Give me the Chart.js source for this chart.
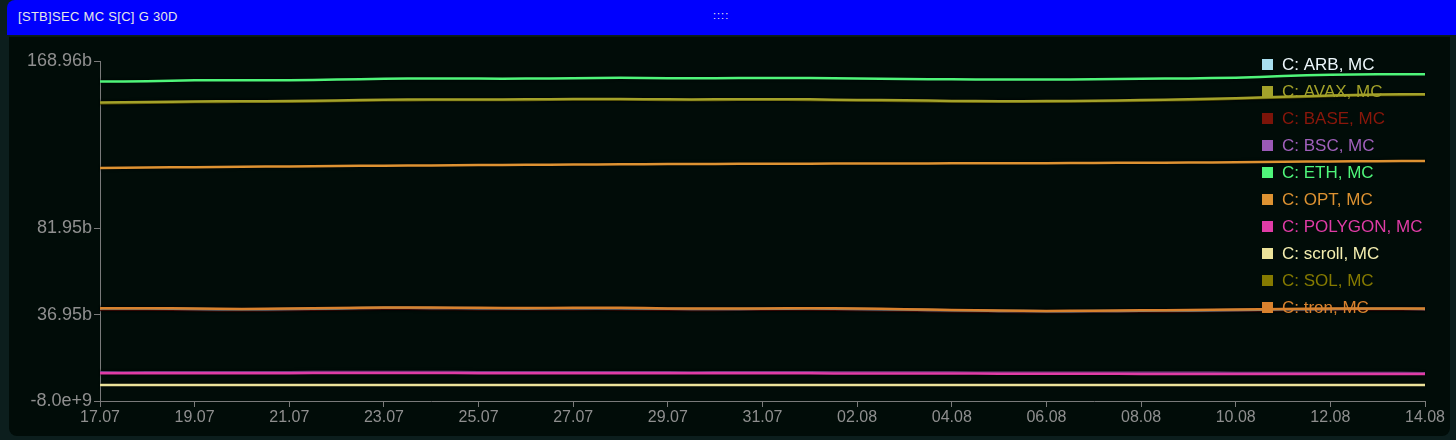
<!DOCTYPE html>
<html>
<head>
<meta charset="utf-8">
<script src="https://cdn.jsdelivr.net/npm/chart.js@4"></script>
<style>
  html, body { margin: 0; padding: 0; }
  body { width: 1456px; height: 440px; background: #0c1e1d; position: relative; overflow: hidden; font-family: "Helvetica Neue", "Liberation Sans", Arial, sans-serif; }
  #head { position: absolute; left: 7px; top: 0; width: 1449px; height: 35px; background: #0000fe; border-top-left-radius: 8px; color: #e8e8e8; font-size: 13px; }
  #head .t { position: absolute; left: 11px; top: 9px; letter-spacing: 0.3px; }
  #head .d { position: absolute; left: 706px; top: 9px; font-size: 11px; letter-spacing: 1px; }
  #panel { position: absolute; left: 9px; top: 36px; width: 1441px; height: 399px; background: #010c08; border-radius: 0 0 8px 8px; border-top: 1px solid #0a1a14; }
  #wrap { position: absolute; left: 0; top: 0; width: 1441px; height: 399px; }
</style>
</head>
<body>
<div id="head"><span class="t">[STB]SEC MC S[C] G 30D</span><span class="d">::::</span></div>
<div id="panel"><div id="wrap"><canvas id="grafiek"></canvas></div></div>
<script>
// datums (dagelijks)
var dagen = ['17.07','18.07','19.07','20.07','21.07','22.07','23.07','24.07','25.07','26.07','27.07','28.07','29.07','30.07','31.07',
  '01.08','02.08','03.08','04.08','05.08','06.08','07.08','08.08','09.08','10.08','11.08','12.08','13.08','14.08'];

// y-as ticks
var yTicks = [-8.0e9, 36.95e9, 81.95e9, 168.96e9];
var yLabels = ['-8.0e+9', '36.95b', '81.95b', '168.96b'];

// waarden in miljard
var arb = [40.1,40.1,39.9,39.7,39.9,40.2,40.5,40.4,40.3,40.2,40.3,40.3,40.0,39.9,40.0,40.1,39.9,39.6,39.2,38.9,38.7,38.8,39.0,39.1,39.4,39.7,39.9,40.0,39.9];
var avax = [147.4,147.6,147.9,148.0,148.1,148.4,148.8,148.9,148.9,149.0,149.2,149.2,149.0,149.0,149.1,149.0,148.7,148.5,148.2,148.0,148.1,148.3,148.6,149.0,149.6,150.3,151.0,151.5,151.7];
var base = [39.6,39.6,39.4,39.2,39.4,39.7,40.0,39.9,39.8,39.7,39.8,39.8,39.5,39.4,39.5,39.6,39.4,39.1,38.7,38.4,38.3,38.4,38.6,38.7,39.0,39.3,39.5,39.6,39.5];
var bsc = [6.9,6.9,7.0,7.0,7.0,7.1,7.1,7.1,7.0,7.0,7.0,7.0,6.9,6.9,6.9,6.9,6.8,6.8,6.8,6.7,6.7,6.7,6.7,6.7,6.6,6.6,6.6,6.6,6.5];
var eth = [158.3,158.4,158.9,159.0,159.0,159.3,159.7,159.9,159.8,159.8,160.0,160.2,160.0,160.0,160.1,160.1,159.9,159.6,159.4,159.3,159.3,159.5,159.7,159.9,160.3,161.1,161.8,162.0,162.1];
var opt = [113.3,113.5,113.7,113.9,114.1,114.3,114.5,114.6,114.8,114.9,115.1,115.2,115.3,115.4,115.5,115.5,115.6,115.6,115.7,115.7,115.8,115.9,116.0,116.1,116.3,116.5,116.7,116.8,116.9];
var polygon = [6.4,6.4,6.5,6.5,6.5,6.6,6.6,6.6,6.5,6.5,6.5,6.5,6.4,6.4,6.4,6.4,6.3,6.3,6.3,6.2,6.2,6.2,6.1,6.1,6.1,6.1,6.0,6.0,6.0];
var scroll = [0.3,0.3,0.3,0.3,0.3,0.3,0.3,0.3,0.3,0.3,0.3,0.3,0.3,0.3,0.3,0.3,0.3,0.3,0.3,0.3,0.3,0.3,0.3,0.3,0.3,0.3,0.3,0.3,0.3];
var sol = [147.0,147.2,147.6,147.7,147.8,148.1,148.5,148.6,148.6,148.7,148.9,148.9,148.7,148.7,148.8,148.7,148.4,148.2,147.9,147.7,147.8,148.0,148.3,148.7,149.3,150.0,150.7,151.2,151.4];
var tron = [40.3,40.3,40.1,39.9,40.1,40.4,40.7,40.6,40.5,40.4,40.5,40.5,40.2,40.1,40.2,40.3,40.1,39.8,39.4,39.1,38.9,39.0,39.2,39.3,39.6,39.9,40.1,40.2,40.1];

var namen = ['C: ARB, MC','C: AVAX, MC','C: BASE, MC','C: BSC, MC','C: ETH, MC','C: OPT, MC','C: POLYGON, MC','C: scroll, MC','C: SOL, MC','C: tron, MC'];
var kleuren = ['#a9dff0','#a3a22a','#7c1409','#9b59b6','#4ff57a','#dd9232','#e03ca6','#ece39a','#857a00','#d8822e'];
var tekstKleuren = ['#eef8fc','#a3a22a','#8a170b','#a060bb','#4ff57a','#dd9232','#e03ca6','#f4eeb0','#857a00','#d8822e'];
var volgorde = [3, 2, 4, 2, 0, 1, 1, 1, 2, 0]; // lager = bovenop
var reeksen = [arb, avax, base, bsc, eth, opt, polygon, scroll, sol, tron];

// legenda in de grafiek (rechtsboven)
var legendaPlugin = {
  id: 'legendaRechts',
  afterDatasetsDraw: function(chart) {
    var ctx = chart.ctx;
    ctx.save();
    ctx.font = '17px "Helvetica Neue", "Liberation Sans", Arial, sans-serif';
    ctx.textBaseline = 'middle';
    chart.data.datasets.forEach(function(ds, i) {
      var y = 28 + i * 27;
      ctx.fillStyle = ds.borderColor;
      ctx.fillRect(1253, y - 6, 11, 11);
      ctx.fillStyle = tekstKleuren[i];
      ctx.fillText(ds.label, 1273, y);
    });
    ctx.restore();
  }
};

// donkere rand om de lijnen
var schaduwPlugin = {
  id: 'schaduw',
  beforeDatasetDraw: function(chart) {
    chart.ctx.save();
    chart.ctx.shadowColor = 'rgba(0,0,0,0.9)';
    chart.ctx.shadowBlur = 3;
  },
  afterDatasetDraw: function(chart) {
    chart.ctx.restore();
  }
};

function tekenGrafiek() {
  var ctx = document.getElementById('grafiek');
  var sets = reeksen.map(function(r, i) {
    return {
      label: namen[i],
      data: r.map(function(v) { return v * 1e9; }),
      borderColor: kleuren[i],
      backgroundColor: kleuren[i],
      borderWidth: 2.5,
      pointRadius: 0,
      tension: 0.3,
      order: volgorde[i]
    };
  });
  new Chart(ctx, {
    type: 'line',
    data: { labels: dagen, datasets: sets },
    options: {
      responsive: true,
      maintainAspectRatio: false,
      animation: false,
      layout: { padding: { top: 24, right: 25, left: 0, bottom: 0 } },
      plugins: { legend: { display: false }, tooltip: { enabled: false } },
      scales: {
        x: {
          grid: { display: true, drawOnChartArea: false, drawTicks: true, tickLength: 6, color: '#7a7a7a' },
          border: { color: '#7a7a7a', width: 1 },
          ticks: {
            color: '#8f8f8f', font: { size: 16 }, maxRotation: 0, autoSkip: false, padding: 1,
            callback: function(v, i) { return i % 2 === 0 ? dagen[i] : null; }
          },
          afterFit: function(s) { s.height = 35; }
        },
        y: {
          min: -8.0e9,
          max: 168.96e9,
          grid: { display: true, drawOnChartArea: false, drawTicks: true, tickLength: 6, color: '#7a7a7a' },
          border: { color: '#7a7a7a', width: 1 },
          afterBuildTicks: function(s) { s.ticks = yTicks.map(function(v) { return { value: v }; }); },
          ticks: {
            color: '#8f8f8f', font: { size: 18 }, padding: 2,
            callback: function(v) { var i = yTicks.indexOf(v); return i >= 0 ? yLabels[i] : ''; }
          },
          afterFit: function(s) { s.width = 91; }
        }
      }
    },
    plugins: [schaduwPlugin, legendaPlugin]
  });
}

window.onload = function() {
  tekenGrafiek();
};
</script>
</body>
</html>
